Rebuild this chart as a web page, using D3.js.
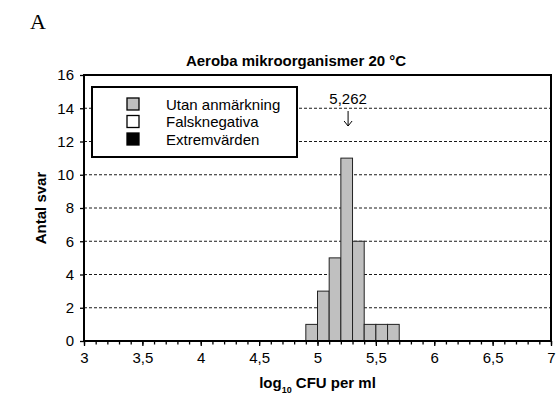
<!DOCTYPE html>
<html>
<head>
<meta charset="utf-8">
<script src="https://cdn.jsdelivr.net/npm/d3@7"></script>
<style>
  body { margin: 0; background: #fff; }
  text { font-family: "Liberation Sans", Arial, sans-serif; }
</style>
</head>
<body>
<svg id="chart" width="558" height="396"></svg>
<script>
// histogram bins (lower edge, log10 CFU/ml) and counts
const binStarts = [4.9, 5.0, 5.1, 5.2, 5.3, 5.4, 5.5, 5.6];
const counts = [1, 3, 5, 11, 6, 1, 1, 1];
const binWidth = 0.1;
const xTicks = [3, 3.5, 4, 4.5, 5, 5.5, 6, 6.5, 7];
const yTicks = [0, 2, 4, 6, 8, 10, 12, 14, 16];
const legendItems = [
  { label: 'Utan anmärkning', fill: '#c0c0c0' },
  { label: 'Falsknegativa', fill: '#ffffff' },
  { label: 'Extremvärden', fill: '#000000' }
];
const median = 5.262;

const margin = { top: 75, right: 7, bottom: 55, left: 84 };
const width = 558 - margin.left - margin.right;
const height = 396 - margin.top - margin.bottom;
const fs = '15px';

const root = d3.select('#chart');

root.append('text')
  .attr('x', 30).attr('y', 29)
  .style('font-family', '"Liberation Serif", "Times New Roman", serif')
  .style('font-size', '22px')
  .text('A');

const svg = root.append('g')
  .attr('transform', `translate(${margin.left},${margin.top})`);

const x = d3.scaleLinear().domain([3, 7]).range([0, width]);
const y = d3.scaleLinear().domain([0, 16]).range([height, 0]);

// gridlines
svg.selectAll('.grid')
  .data(yTicks.filter(d => d > 0 && d < 16))
  .enter().append('line')
  .attr('x1', 0).attr('x2', width)
  .attr('y1', d => y(d)).attr('y2', d => y(d))
  .attr('stroke', '#000')
  .attr('stroke-width', 0.9)
  .attr('stroke-dasharray', '3,2');

// bars
svg.selectAll('.bar')
  .data(binStarts)
  .enter().append('rect')
  .attr('x', d => x(d))
  .attr('y', (d, i) => y(counts[i]))
  .attr('width', d => x(d + binWidth) - x(d))
  .attr('height', (d, i) => y(0) - y(counts[i]))
  .attr('fill', '#c0c0c0')
  .attr('stroke', '#222')
  .attr('stroke-width', 1);

// frame
svg.append('rect')
  .attr('width', width).attr('height', height)
  .attr('fill', 'none')
  .attr('stroke', '#000')
  .attr('stroke-width', 2);

// x axis: major ticks with labels, minor ticks every 0.1
const fmt = d => String(d).replace('.', ',');
svg.append('g')
  .attr('transform', `translate(0,${height})`)
  .call(d3.axisBottom(x).tickValues(xTicks).tickFormat(fmt).tickSize(5).tickPadding(6));
svg.append('g')
  .attr('transform', `translate(0,${height})`)
  .call(d3.axisBottom(x).tickValues(d3.range(30, 71).map(d => d / 10)).tickFormat('').tickSize(3.5));

svg.append('g')
  .call(d3.axisLeft(y).tickValues(yTicks).tickSize(4).tickPadding(6));

svg.selectAll('.domain').remove();
svg.selectAll('.tick line').attr('stroke', '#000').attr('stroke-width', 1.3);
svg.selectAll('.tick text')
  .style('font-family', '"Liberation Sans", Arial, sans-serif')
  .style('font-size', fs)
  .attr('fill', '#000');

// title
svg.append('text')
  .attr('x', 296 - margin.left).attr('y', -9)
  .attr('text-anchor', 'middle')
  .style('font-size', fs)
  .style('font-weight', 'bold')
  .text('Aeroba mikroorganismer 20 °C');

// axis labels
const xl = svg.append('text')
  .attr('x', width / 2).attr('y', height + 47)
  .attr('text-anchor', 'middle')
  .style('font-size', fs)
  .style('font-weight', 'bold');
xl.append('tspan').text('log');
xl.append('tspan').attr('dy', 5).style('font-size', '9px').text('10');
xl.append('tspan').attr('dy', -5).text(' CFU per ml');

svg.append('text')
  .attr('transform', 'rotate(-90)')
  .attr('x', -height / 2).attr('y', -38)
  .attr('text-anchor', 'middle')
  .style('font-size', fs)
  .style('font-weight', 'bold')
  .text('Antal svar');

// median annotation
const mx = x(median);
svg.append('text')
  .attr('x', mx).attr('y', 29)
  .attr('text-anchor', 'middle')
  .style('font-size', fs)
  .text(fmt(median));
svg.append('path')
  .attr('d', `M${mx},36V51M${mx - 4},46L${mx},51L${mx + 4},46`)
  .attr('fill', 'none')
  .attr('stroke', '#000')
  .attr('stroke-width', 1);

// legend
const lg = svg.append('g').attr('transform', 'translate(8,12)');
lg.append('rect')
  .attr('width', 205).attr('height', 70)
  .attr('fill', '#fff')
  .attr('stroke', '#000')
  .attr('stroke-width', 2);
const rows = lg.selectAll('.item')
  .data(legendItems)
  .enter().append('g')
  .attr('transform', (d, i) => `translate(0,${17 + i * 17.5})`);
rows.append('rect')
  .attr('x', 35).attr('y', -6)
  .attr('width', 12).attr('height', 12)
  .attr('fill', d => d.fill)
  .attr('stroke', '#000')
  .attr('stroke-width', 1.3);
rows.append('text')
  .attr('x', 74).attr('y', 5.5)
  .style('font-size', fs)
  .text(d => d.label);
</script>
</body>
</html>
